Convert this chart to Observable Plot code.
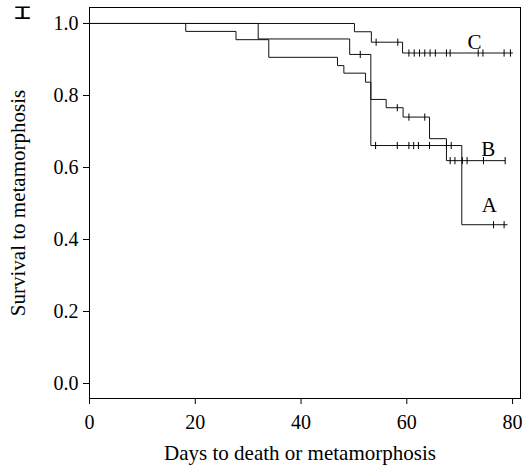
<!DOCTYPE html>
<html><head><meta charset="utf-8">
<script src="https://cdn.jsdelivr.net/npm/d3@7"></script>
<script src="https://cdn.jsdelivr.net/npm/@observablehq/plot@0.6"></script>
<style>
body{margin:0;background:#fff}
#chart svg{display:block}
</style>
</head><body><div id="chart"></div>
<script>
// Kaplan–Meier step data: [day, survival after the step]
const stepsA = [[0,1.0],[18.2,0.978],[27.7,0.955],[33.9,0.906],[46.9,0.883],[48.1,0.862],[52.2,0.837],[53.2,0.661],[70.4,0.441]];
const endA = 79.0;
const censorA = [54.1,58.2,60.4,61.3,62.2,64.3,67.5,68.4,76.4,78.4];

const stepsB = [[0,1.0],[31.9,0.957],[49.2,0.914],[53.2,0.789],[56.1,0.766],[59.3,0.740],[64.3,0.680],[67.5,0.619]];
const endB = 78.6;
const censorB = [51.2,58.2,60.4,63.4,68.2,69.1,70.5,71.4,74.5,78.6];

const stepsC = [[0,1.0],[50.1,0.977],[53.3,0.948],[59.2,0.918]];
const endC = 80.0;
const censorC = [54.2,58.3,60.4,61.4,62.4,63.4,64.4,65.4,67.5,68.2,73.5,74.4,78.4,79.6];

const seriesNames = ["A","B","C"];
const labelDay = [75.6, 75.4, 72.8];
const labelSurv = [0.494, 0.650, 0.948];

const xTicks = [0,20,40,60,80];
const yTicks = [0,0.2,0.4,0.6,0.8,1.0];
const xTitle = "Days to death or metamorphosis";
const yTitle = "Survival to metamorphosis";
const cornerGlyph = "\u2336";

const all = [[stepsA,endA,censorA],[stepsB,endB,censorB],[stepsC,endC,censorC]];
function survAt(steps,t){let s=steps[0][1];for(const [d,v] of steps){if(d<=t)s=v;}return s;}
const lineData = [], censorData = [];
all.forEach(([steps,end,cens],i)=>{
  steps.forEach(([d,v])=>lineData.push({series:seriesNames[i],day:d,surv:v}));
  lineData.push({series:seriesNames[i],day:end,surv:steps[steps.length-1][1]});
  cens.forEach(t=>censorData.push({series:seriesNames[i],day:t,surv:survAt(steps,t)}));
});
const labels = seriesNames.map((n,i)=>({name:n,day:labelDay[i],surv:labelSurv[i]}));

const vbar = {draw(context,size){const r=Math.sqrt(size/Math.PI);context.moveTo(0,-r);context.lineTo(0,r);}};

const chart = Plot.plot({
  width:531, height:469,
  marginLeft:89, marginRight:11, marginTop:7, marginBottom:71,
  style:{fontFamily:"'Liberation Serif', 'Times New Roman', serif", fontSize:"20px", color:"#000", background:"#fff", overflow:"visible"},
  x:{domain:[0,81.5], ticks:xTicks, tickSize:6, tickPadding:10, tickFormat:d3.format("d"), label:null},
  y:{domain:[-0.0417,1.0444], ticks:yTicks, tickSize:6, tickPadding:5, tickFormat:d3.format(".1f"), label:null},
  marks:[
    Plot.frame({stroke:"#000"}),
    Plot.line(lineData,{x:"day",y:"surv",z:"series",curve:"step-after",stroke:"#111",strokeWidth:1}),
    Plot.dot(censorData,{x:"day",y:"surv",symbol:vbar,r:3.6,stroke:"#000",fill:"none",strokeWidth:1}),
    Plot.text(labels,{x:"day",y:"surv",text:"name",fontSize:21,fill:"#000"}),
    Plot.text([xTitle],{frameAnchor:"bottom",dy:55,dx:-5,text:d=>d,textAnchor:"middle",lineAnchor:"middle",fontSize:21,fill:"#000"}),
    Plot.text([yTitle],{frameAnchor:"left",dx:-71,rotate:-90,text:d=>d,textAnchor:"middle",lineAnchor:"middle",fontSize:21,fill:"#000"}),
    Plot.text([cornerGlyph],{frameAnchor:"top-left",dx:-67,dy:5,text:d=>d,textAnchor:"middle",lineAnchor:"middle",
      fontFamily:"'DejaVu Sans Mono', 'DejaVu Sans', monospace",fontSize:20,fill:"#000"})
  ]
});
document.getElementById("chart").appendChild(chart);
// widen the corner I-beam glyph to the reference's proportions
d3.select(chart).selectAll("text").filter(function(){return this.textContent===cornerGlyph;})
  .attr("textLength",17).attr("lengthAdjust","spacingAndGlyphs");
</script>
</body></html>
